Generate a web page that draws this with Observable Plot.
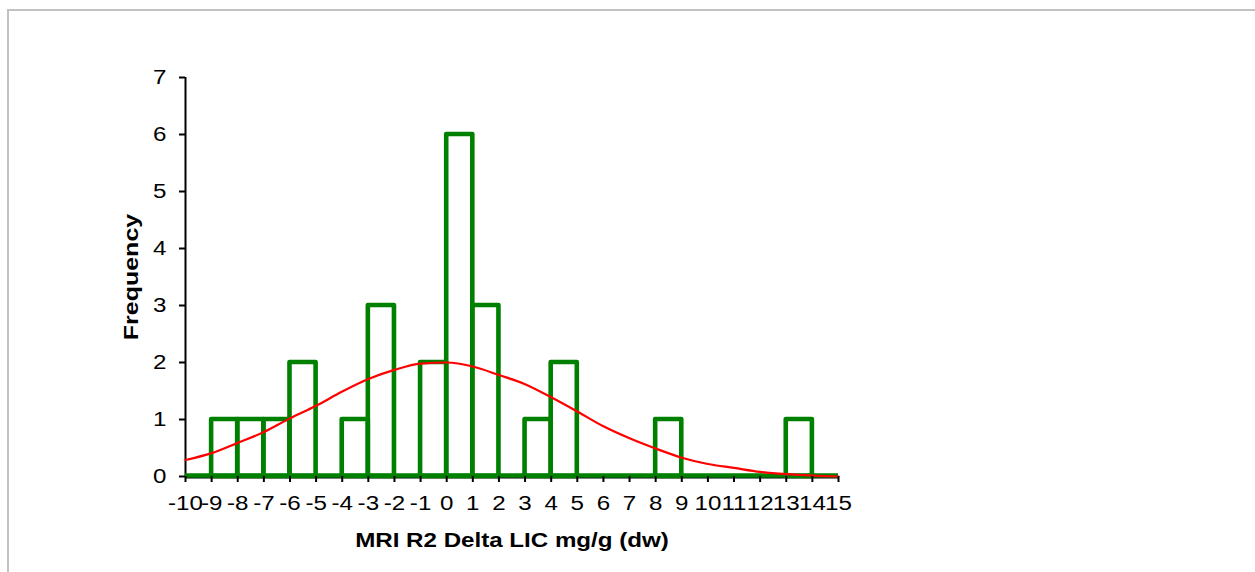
<!DOCTYPE html>
<html>
<head>
<meta charset="utf-8">
<script src="https://cdn.jsdelivr.net/npm/d3@7"></script>
<script src="https://cdn.jsdelivr.net/npm/@observablehq/plot@0.6"></script>
<style>
  html, body { margin: 0; padding: 0; background: #fff; overflow: hidden; }
  #wrap { position: relative; width: 1255px; height: 572px; }
  #frame {
    position: absolute; left: 7px; top: 9px; width: 2000px; height: 2000px;
    border-left: 2px solid #c2c2c2; border-top: 2px solid #c2c2c2;
    pointer-events: none; z-index: 2;
  }
  #chart svg { display: block; }
</style>
</head>
<body>
<div id="wrap">
  <div id="frame"></div>
  <div id="chart"></div>
</div>
<script>
// Histogram bins (lower / upper edges) and counts
const binLow  = [-10, -9, -8, -7, -6, -5, -4, -3, -2, -1, 0, 1, 2, 3, 4, 5, 6, 7, 8, 9, 10, 11, 12, 13, 14];
const binHigh = [-9, -8, -7, -6, -5, -4, -3, -2, -1, 0, 1, 2, 3, 4, 5, 6, 7, 8, 9, 10, 11, 12, 13, 14, 15];
const counts  = [0, 1, 1, 1, 2, 0, 1, 3, 0, 2, 6, 3, 0, 1, 2, 0, 0, 0, 1, 0, 0, 0, 0, 1, 0];

// Fitted normal curve (expected frequency)
const fitX = [-10, -9, -8, -7, -6, -5, -4, -3, -2, -1, 0, 1, 2, 3, 4, 5, 6, 7, 8, 9, 10, 11, 12, 13, 14, 15];
const fitY = [0.29, 0.41, 0.59, 0.78, 1.02, 1.24, 1.49, 1.71, 1.87, 1.98, 2.0, 1.93, 1.78, 1.62, 1.39, 1.14, 0.88, 0.67, 0.49, 0.33, 0.22, 0.15, 0.08, 0.04, 0.015, 0.0];

// Axis ticks and labels
const xTicks = [-10, -9, -8, -7, -6, -5, -4, -3, -2, -1, 0, 1, 2, 3, 4, 5, 6, 7, 8, 9, 10, 11, 12, 13, 14, 15];
const xTickLabels = ["-10", "-9", "-8", "-7", "-6", "-5", "-4", "-3", "-2", "-1", "0", "1", "2", "3", "4", "5", "6", "7", "8", "9", "10", "11", "12", "13", "14", "15"];
const yTicks = [0, 1, 2, 3, 4, 5, 6, 7];
const xTitle = "MRI R2 Delta LIC mg/g (dw)";
const yTitle = "Frequency";

const bins = binLow.map((lo, i) => ({lo, hi: binHigh[i], count: counts[i]}));
const fit = fitX.map((x, i) => ({x, y: fitY[i]}));

const svg = Plot.plot({
  width: 1255,
  height: 572,
  marginLeft: 185,
  marginRight: 417,
  marginTop: 77,
  marginBottom: 96,
  style: {fontFamily: "'Liberation Sans', Arial, sans-serif", color: "#000", background: "transparent"},
  x: {domain: [-10, 15]},
  y: {domain: [0, 7]},
  marks: [
    // axis lines
    Plot.ruleY([0], {stroke: "#000", strokeWidth: 2, dy: 1}),
    Plot.ruleX([-10], {stroke: "#000", strokeWidth: 2}),
    // histogram outlines
    Plot.rect(bins, {x1: "lo", x2: "hi", y1: 0, y2: "count", fill: "none", stroke: "#008000", strokeWidth: 4.6, strokeLinejoin: "round"}),
    Plot.ruleY([0], {stroke: "#008000", strokeWidth: 4.6, dy: -1}),
    // fitted curve
    Plot.line(fit, {x: "x", y: "y", stroke: "#ff0000", strokeWidth: 2.2, curve: "monotone-x"}),
    // axes
    Plot.axisX({ticks: xTicks, tickFormat: (d) => xTickLabels[xTicks.indexOf(d)], tickSize: 6, tickPadding: 13, fontSize: 21, strokeWidth: 2, label: null}),
    Plot.axisY({ticks: yTicks, tickFormat: (d) => String(d), tickSize: 6, tickPadding: 13, fontSize: 21, strokeWidth: 2, label: null}),
    // axis titles
    Plot.text([xTitle], {frameAnchor: "bottom", dy: 64, text: (d) => d, fontSize: 21, fontWeight: "bold", textAnchor: "middle", lineAnchor: "middle"}),
    Plot.text([yTitle], {frameAnchor: "left", dx: -54, text: (d) => d, fontSize: 21, fontWeight: "bold", rotate: -90, textAnchor: "middle", lineAnchor: "middle"})
  ]
});

document.getElementById("chart").append(svg);

// Widen glyphs horizontally about each label's anchor point
svg.querySelectorAll("text").forEach((t) => {
  const s = t.textContent;
  const k = s === xTitle ? 1.15 : s === yTitle ? 1.19 : 1.15;
  const prev = t.getAttribute("transform") || "";
  if (/^translate/.test(prev)) {
    t.setAttribute("transform", `${prev} scale(${k},1)`);
  } else {
    const b = t.getBBox();
    const cx = b.x + b.width / 2, cy = b.y + b.height / 2;
    t.setAttribute("transform", `${prev} translate(${cx},${cy}) scale(${k},1) translate(${-cx},${-cy})`);
  }
});
</script>
</body>
</html>
